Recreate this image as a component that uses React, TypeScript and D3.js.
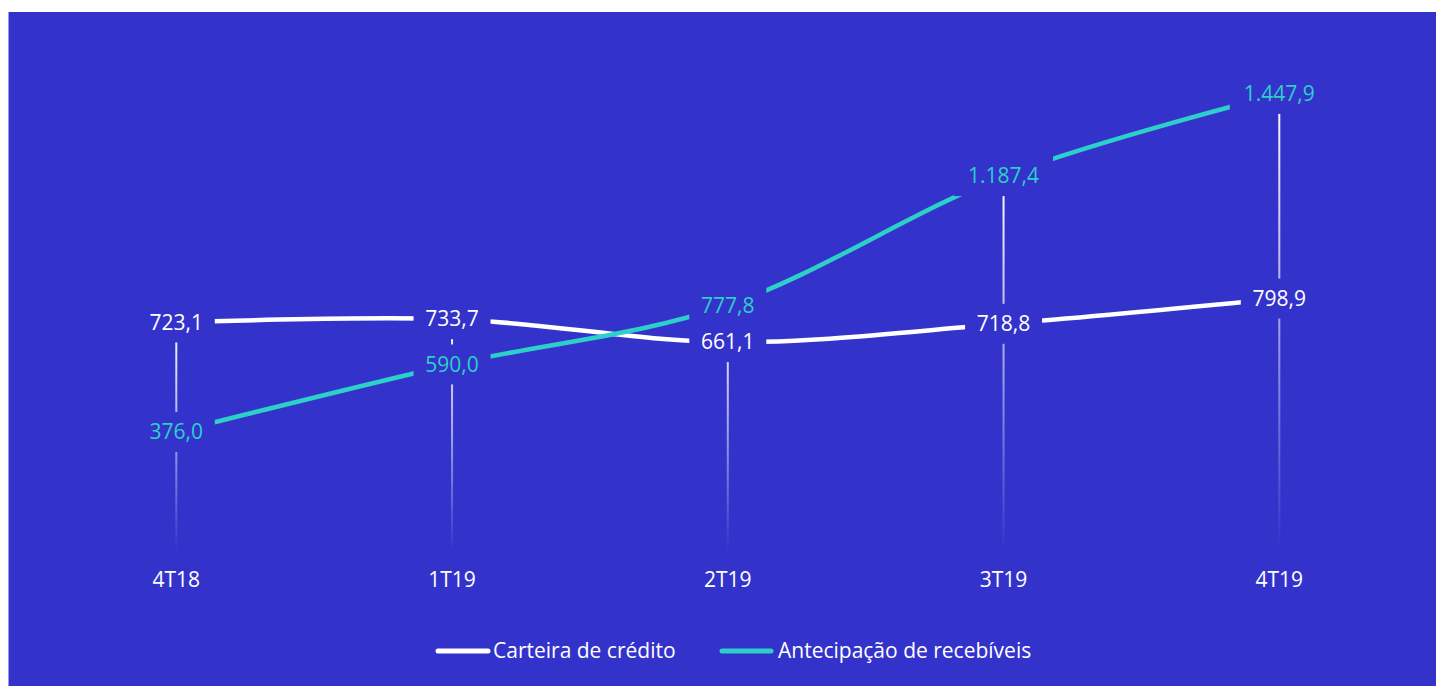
import React from "react";
import * as d3 from "d3";

const categories = ["4T18", "1T19", "2T19", "3T19", "4T19"];
const carteira = [723.1, 733.7, 661.1, 718.8, 798.9];
const antecipacao = [376.0, 590.0, 777.8, 1187.4, 1447.9];
const seriesNames = ["Carteira de crédito", "Antecipação de recebíveis"];

const W = 1436;
const H = 686;
const BG = "#3333CC";
const WHITE = "#FFFFFF";
const TEAL = "#2DD0C8";
const FONT = "'Open Sans', 'Noto Sans', sans-serif";

const locale = d3.formatLocale({ decimal: ",", thousands: ".", grouping: [3], currency: ["R$", ""] });
const fmt = locale.format(",.1f");

export default function App() {
  const x = d3.scalePoint<string>().domain(categories).range([176.3, 1279.3]);
  const y = d3.scaleLinear().domain([0, 1500]).range([550.5, 77.5]);

  const line = d3
    .line<number>()
    .x((_, i) => x(categories[i]) as number)
    .y((d) => y(d))
    .curve(d3.curveCardinal.tension(0));

  const series = [
    { name: seriesNames[0], values: carteira, color: WHITE },
    { name: seriesNames[1], values: antecipacao, color: TEAL },
  ];

  const fontSize = 21;
  const labelW = (s: string) => s.length * 11 + 2;

  return (
    <svg
      width={W}
      height={H}
      style={{ position: "absolute", left: 0, top: 0, display: "block" }}
      fontFamily={FONT}
    >
      <defs>
        <linearGradient id="dropGrad" x1="0" y1="0" x2="0" y2="1">
          <stop offset="0" stopColor="#FFFFFF" stopOpacity={1} />
          <stop offset="0.5" stopColor="#FFFFFF" stopOpacity={0.55} />
          <stop offset="1" stopColor="#FFFFFF" stopOpacity={0} />
        </linearGradient>
      </defs>
      <rect x={8.5} y={12} width={W - 8.5} height={H - 12} fill={BG} />

      {/* drop lines */}
      {categories.map((c, i) => {
        const top = y(Math.max(carteira[i], antecipacao[i]));
        const bottom = y(0);
        return (
          <rect
            key={"drop" + c}
            x={(x(c) as number) - 1}
            y={top}
            width={2}
            height={bottom - top}
            fill="url(#dropGrad)"
          />
        );
      })}

      {/* lines */}
      {series.map((s) => (
        <path
          key={"line" + s.name}
          d={line(s.values) || ""}
          fill="none"
          stroke={s.color}
          strokeWidth={4.5}
        />
      ))}

      {/* data labels */}
      {series.map((s) =>
        s.values.map((v, i) => {
          const cx = x(categories[i]) as number;
          const cy = y(v);
          const t = fmt(v);
          const w = labelW(t) + 20;
          return (
            <g key={"lab" + s.name + i}>
              <rect x={cx - w / 2} y={cy - 20} width={w} height={40} fill={BG} />
              <text
                x={cx}
                y={cy}
                dy="0.35em"
                textAnchor="middle"
                fontSize={fontSize}
                fill={s.color}
              >
                {t}
              </text>
            </g>
          );
        })
      )}

      {/* category labels */}
      {categories.map((c) => (
        <text
          key={"cat" + c}
          x={x(c) as number}
          y={580}
          dy="0.35em"
          textAnchor="middle"
          fontSize={fontSize}
          fill={WHITE}
        >
          {c}
        </text>
      ))}

      {/* legend */}
      <g>
        <line x1={438} x2={488} y1={651} y2={651} stroke={WHITE} strokeWidth={5} strokeLinecap="round" />
        <text x={493} y={651} dy="0.35em" fontSize={fontSize} fill={WHITE}>
          {seriesNames[0]}
        </text>
        <line x1={722} x2={771} y1={651} y2={651} stroke={TEAL} strokeWidth={5} strokeLinecap="round" />
        <text x={778} y={651} dy="0.35em" fontSize={fontSize} fill={WHITE}>
          {seriesNames[1]}
        </text>
      </g>
    </svg>
  );
}
